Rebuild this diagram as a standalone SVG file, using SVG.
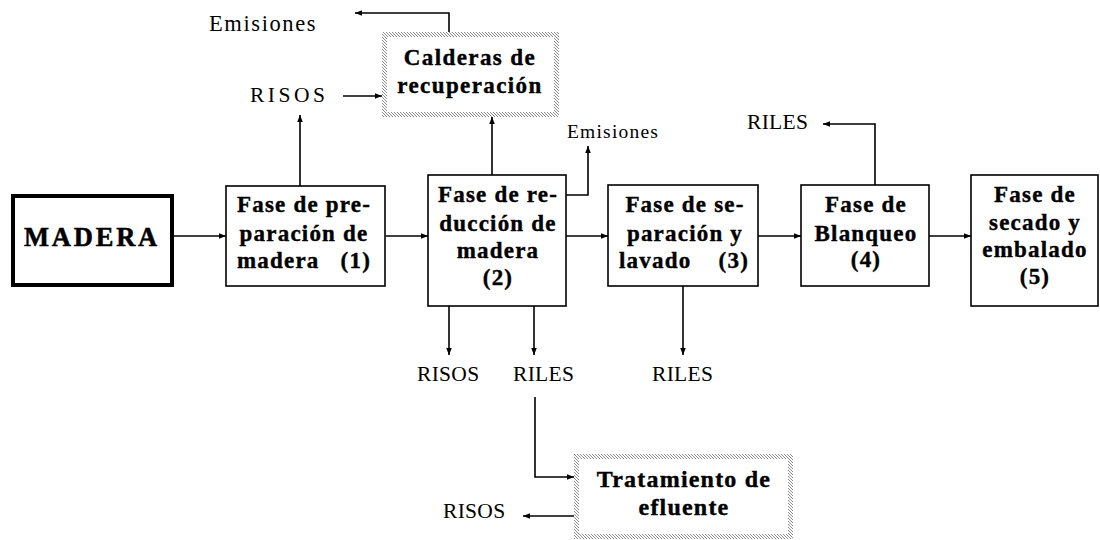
<svg xmlns="http://www.w3.org/2000/svg" width="1100" height="540" viewBox="0 0 1100 540">
<style>
text{font-family:"Liberation Serif","Times New Roman",serif;fill:#000}
.b{font-weight:bold;font-size:23px;letter-spacing:1.2px;stroke:#000;stroke-width:0.4px}
.c{text-anchor:middle}
.e{text-anchor:end}
.m{font-weight:bold;font-size:26.5px;letter-spacing:2.8px;stroke:#000;stroke-width:0.5px}
.l{font-size:21.5px;letter-spacing:0.3px}
.box{fill:#fff;stroke:#000;stroke-width:1.6}
.con{fill:none;stroke:#000;stroke-width:1.6;marker-end:url(#ah)}
</style>
<defs>
<marker id="ah" markerUnits="userSpaceOnUse" markerWidth="8" markerHeight="6" refX="7" refY="3" orient="auto">
<path d="M0,0.2 L7,3 L0,5.8 z" fill="#000"/>
</marker>
<pattern id="hatch" patternUnits="userSpaceOnUse" width="3" height="3">
<path d="M-1,-1 L4,4 M-1,2 L1,4 M2,-1 L4,1" stroke="#808080" stroke-width="0.9"/>
</pattern>
</defs>
<rect width="1100" height="540" fill="#fff"/>

<g id="connectors">
<path class="con" d="M174,236 H226"/>
<path class="con" d="M386,236 H428"/>
<path class="con" d="M566,236 H608"/>
<path class="con" d="M758,236 H801"/>
<path class="con" d="M929,236 H971"/>
<path class="con" d="M300,186 V115"/>
<path class="con" d="M492,175 V117"/>
<path class="con" d="M343,96 H382"/>
<path class="con" d="M449,32 V13 H355"/>
<path class="con" d="M566,195 H588 V146"/>
<path class="con" d="M875,185 V124 H823"/>
<path class="con" d="M449,306 V355"/>
<path class="con" d="M534,306 V355"/>
<path class="con" d="M683,286 V355"/>
<path class="con" d="M535,397 V477 H574"/>
<path class="con" d="M574,516 H523"/>
</g>

<g id="madera">
<rect x="13" y="196" width="159" height="89" fill="#fff" stroke="#000" stroke-width="4"/>
<text class="m c" x="92" y="246">MADERA</text>
</g>

<g id="fase1">
<rect class="box" x="226" y="186" width="159" height="100"/>
<text class="b c" x="304" y="212">Fase de pre-</text>
<text class="b c" x="304" y="241">paración de</text>
<text class="b" x="237" y="268">madera</text>
<text class="b e" x="371" y="268">(1)</text>
</g>

<g id="fase2">
<rect class="box" x="428" y="175" width="138" height="131"/>
<text class="b c" x="498" y="202">Fase de re-</text>
<text class="b c" x="498" y="231">ducción de</text>
<text class="b c" x="498" y="258">madera</text>
<text class="b c" x="498" y="285">(2)</text>
</g>

<g id="fase3">
<rect class="box" x="608" y="185" width="150" height="101"/>
<text class="b c" x="685" y="212">Fase de se-</text>
<text class="b c" x="685" y="241">paración y</text>
<text class="b" x="619" y="268">lavado</text>
<text class="b e" x="749" y="268">(3)</text>
</g>

<g id="fase4">
<rect class="box" x="801" y="185" width="128" height="101"/>
<text class="b c" x="866" y="212">Fase de</text>
<text class="b c" x="866" y="241">Blanqueo</text>
<text class="b c" x="866" y="267">(4)</text>
</g>

<g id="fase5">
<rect class="box" x="971" y="175" width="127" height="131"/>
<text class="b c" x="1035" y="202">Fase de</text>
<text class="b c" x="1035" y="230">secado y</text>
<text class="b c" x="1035" y="257">embalado</text>
<text class="b c" x="1035" y="284">(5)</text>
</g>

<g id="calderas">
<rect x="382" y="32" width="177" height="85" fill="url(#hatch)"/>
<rect x="387" y="37" width="167" height="75" fill="#fff"/>
<text class="b c" x="470" y="65" style="letter-spacing:1.4px">Calderas de</text>
<text class="b c" x="470" y="93" style="letter-spacing:1.4px">recuperación</text>
</g>

<g id="tratamiento">
<rect x="574" y="454" width="219" height="85" fill="url(#hatch)"/>
<rect x="579" y="459" width="209" height="75" fill="#fff"/>
<text class="b c" x="684" y="487" style="font-size:24px">Tratamiento de</text>
<text class="b c" x="684" y="515" style="font-size:24px">efluente</text>
</g>

<g id="labels">
<text x="209" y="31" style="font-size:22.5px;letter-spacing:1.6px">Emisiones</text>
<text x="250" y="102" style="font-size:21.5px;letter-spacing:3.5px">RISOS</text>
<text x="567" y="138" style="font-size:19.5px;letter-spacing:1.2px">Emisiones</text>
<text class="l" x="747" y="129">RILES</text>
<text class="l" x="417" y="381">RISOS</text>
<text class="l" x="513" y="381">RILES</text>
<text class="l" x="652" y="381">RILES</text>
<text class="l" x="443" y="518">RISOS</text>
</g>
</svg>
